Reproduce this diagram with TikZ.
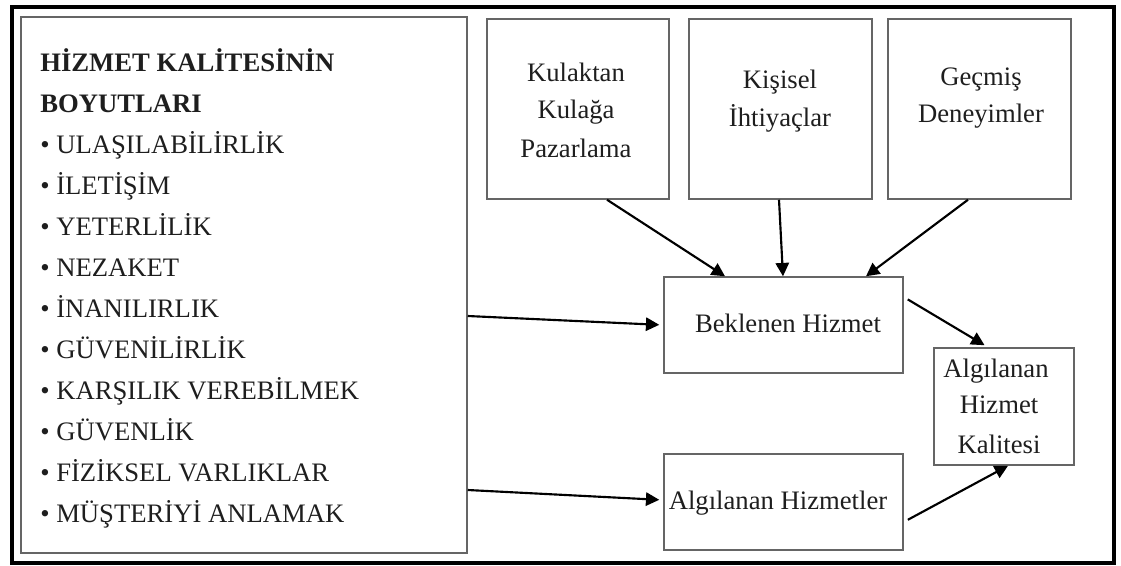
\documentclass[tikz,border=0pt]{standalone}
\usepackage{fontspec}
\setmainfont{Liberation Serif}
\usetikzlibrary{arrows.meta,fit}
\definecolor{boxgray}{HTML}{656565}
\definecolor{ink}{HTML}{1E1E1E}
\begin{document}
\begin{tikzpicture}[x=0.75pt,y=-0.75pt,
  frame/.style={draw=black, line width=3pt, inner sep=0pt},
  box/.style={draw=boxgray, line width=1.1pt, inner sep=0pt},
  txt/.style={font=\fontsize{20}{24}\selectfont, text=ink, inner sep=0pt, anchor=base},
  lefttxt/.style={txt, anchor=base west},
  arr/.style={draw=black, line width=1.6pt, -{Triangle[length=10pt,width=10pt]}}]
\useasboundingbox (0,0) rectangle (1121,565);

% outer frame
\node[frame, fit={(12,7) (1114,563)}] (outer) {};

% boxes
\node[box, fit={(21,17) (467,553)}] (dims) {};
\node[box, fit={(487,19) (669,199)}] (wom) {};
\node[box, fit={(689,19) (872,199)}] (need) {};
\node[box, fit={(888,19) (1071,199)}] (past) {};
\node[box, fit={(664,277) (903,373)}] (exp) {};
\node[box, fit={(664,454) (903,550)}] (perc) {};
\node[box, fit={(934,348) (1074,465)}] (qual) {};

% dimensions list
\node[lefttxt, font=\fontsize{20}{24}\selectfont\bfseries] (head1) at (40,71) {HİZMET KALİTESİNİN};
\node[lefttxt, font=\fontsize{20}{24}\selectfont\bfseries] (head2) at (40,112) {BOYUTLARI};
\foreach \t [count=\i] in {ULAŞILABİLİRLİK, İLETİŞİM, YETERLİLİK, NEZAKET, İNANILIRLIK,
  GÜVENİLİRLİK, KARŞILIK VEREBİLMEK, GÜVENLİK, FİZİKSEL VARLIKLAR, MÜŞTERİYİ ANLAMAK}
  \node[lefttxt] (d\i) at (40,{71+41*(\i+1)}) {\textbullet\ \t};

% box texts
\node[txt] (wom1) at (576,81) {Kulaktan};
\node[txt] (wom2) at (576,118) {Kulağa};
\node[txt] (wom3) at (576,157) {Pazarlama};
\node[txt] (need1) at (780,88) {Kişisel};
\node[txt] (need2) at (780,126) {İhtiyaçlar};
\node[txt] (past1) at (981,85) {Geçmiş};
\node[txt] (past2) at (981,122) {Deneyimler};
\node[txt] (expt) at (788,332) {Beklenen Hizmet};
\node[txt] (perct) at (778,509) {Algılanan Hizmetler};
\node[txt] (qual1) at (996,377) {Algılanan};
\node[txt] (qual2) at (999,413) {Hizmet};
\node[txt] (qual3) at (999,453) {Kalitesi};

% connectors
\draw[arr] (wom.south -| 607,0) -- (exp.north -| 725,0);
\draw[arr] (need.south -| 779,0) -- (exp.north -| 783,0);
\draw[arr] (past.south -| 968,0) -- (exp.north -| 866,0);
\draw[arr, shorten >=3pt] (dims.east |- 0,316) -- (exp.west |- 0,325);
\draw[arr, shorten >=3pt] (dims.east |- 0,490) -- (perc.west |- 0,500);
\draw[arr, shorten <=3.5pt, shorten >=3pt] (exp.east |- 0,297) -- (qual.north -| 988,0);
\draw[arr, shorten <=3.5pt] (perc.east |- 0,522) -- (qual.south -| 1008,0);
\end{tikzpicture}
\end{document}
